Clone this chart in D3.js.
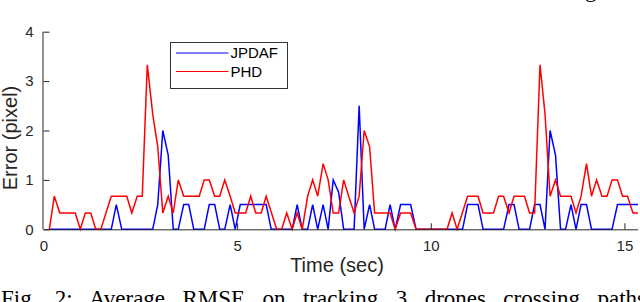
<!DOCTYPE html>
<html>
<head>
<meta charset="utf-8">
<script src="https://cdn.jsdelivr.net/npm/d3@7"></script>
<style>
    body { margin: 0; background: #fff; }
    svg { display: block; }
</style>
</head>
<body>
<div id="graphContainer"></div>
<script>
//series: time (sec) of each vertex and the error there
var jpdafTime = [0.15, 1.75, 1.88, 2.02, 2.82, 2.95, 3.08, 3.22, 3.35, 3.48, 3.62, 3.75, 3.88, 4.15, 4.28, 4.42, 4.55, 4.68, 4.82, 4.95,
        5.08, 5.75, 5.88, 6.42, 6.55, 6.68, 6.82, 6.95, 7.08, 7.22, 7.35, 7.48, 7.62, 7.75, 8.02, 8.15, 8.28, 8.42, 8.55, 8.82,
        8.95, 9.08, 9.22, 9.48, 9.62, 10.82, 10.95, 11.22, 11.35, 11.88, 12.02, 12.15, 12.28, 12.55, 12.68, 12.82, 12.95, 13.08, 13.22, 13.35,
        13.48, 13.62, 13.75, 13.88, 14.02, 14.15, 14.68, 14.82, 15.35],
    jpdafErr = [0, 0, 0.5, 0, 0, 0.5, 2.0, 1.5, 0, 0, 0.5, 0.5, 0, 0, 0.5, 0.5, 0, 0, 0.5, 0,
        0.5, 0.5, 0, 0, 0.5, 0, 0, 0.5, 0, 0.5, 0, 1.0, 0.75, 0, 0, 2.5, 0, 0.5, 0, 0,
        0.5, 0, 0.5, 0.5, 0, 0, 0.5, 0.5, 0, 0, 0.5, 0.5, 0, 0, 0.5, 0.5, 0, 2.0, 1.5, 0,
        0, 0.5, 0, 0.5, 0.5, 0, 0, 0.5, 0.5];

var phdTime = [0.15, 0.28, 0.42, 0.82, 0.95, 1.08, 1.22, 1.35, 1.48, 1.75, 2.15, 2.28, 2.42, 2.55, 2.68, 2.82, 2.95, 3.08, 3.22, 3.35,
        3.48, 3.62, 4.02, 4.15, 4.28, 4.42, 4.55, 4.68, 4.82, 4.95, 5.22, 5.35, 5.48, 5.62, 5.75, 6.02, 6.15, 6.28, 6.42, 6.55,
        6.68, 6.82, 6.95, 7.08, 7.22, 7.35, 7.48, 7.62, 7.75, 7.88, 8.02, 8.15, 8.28, 8.42, 8.55, 8.95, 9.08, 9.22, 9.48, 9.62,
        10.42, 10.55, 10.68, 10.95, 11.22, 11.35, 11.62, 11.75, 11.88, 12.02, 12.15, 12.42, 12.55, 12.68, 12.82, 12.95, 13.08, 13.22, 13.35, 13.62,
        13.75, 13.88, 14.02, 14.15, 14.28, 14.42, 14.55, 14.68, 14.82, 14.95, 15.08, 15.22, 15.35],
    phdErr = [0, 0.67, 0.33, 0.33, 0, 0.33, 0.33, 0, 0, 0.67, 0.67, 0.33, 0.67, 0.67, 3.33, 2.33, 1.67, 0.33, 0.67, 0.33,
        1.0, 0.67, 0.67, 1.0, 1.0, 0.67, 0.67, 1.0, 0.67, 0.33, 0.33, 0.67, 0.33, 0.33, 0.67, 0, 0, 0.33, 0, 0.33,
        0, 0.67, 1.0, 0.67, 1.33, 1.0, 0.33, 0.33, 1.0, 0.67, 0.33, 0.67, 2.0, 1.67, 0.33, 0.33, 0, 0.33, 0.33, 0,
        0, 0.33, 0, 0.67, 0.67, 0.33, 0.33, 0.67, 0.67, 0.33, 0.67, 0.67, 0.33, 0.33, 3.33, 2.33, 0.67, 1.0, 0.67, 0.67,
        0.33, 0.67, 1.33, 0.67, 1.0, 0.67, 0.67, 1.0, 1.0, 0.67, 0.67, 0.33, 0.33];

var xTicks = [0, 5, 10, 15],
    yTicks = [0, 1, 2, 3, 4],
    seriesNames = ["JPDAF", "PHD"],
    seriesColors = ["#0000ff", "#ff0000"];

var caption = "Fig. 2: Average RMSE on tracking 3 drones crossing paths";

//set up drawingspace
var width = 640,
    height = 302,
    axisColor = "#262626";

var svg = d3.select("#graphContainer").append("svg")
    .attr("width", width)
    .attr("height", height);

var x = d3.scaleLinear().domain([0, 15.35]).range([43.5, 638]),
    y = d3.scaleLinear().domain([0, 4]).range([229.3, 31.7]);

var chartLayer = svg.append("g").classed("chartLayer", true);

//lines, red drawn last so it sits on top where both are zero
var series = [
    {name: seriesNames[0], t: jpdafTime, v: jpdafErr, color: seriesColors[0]},
    {name: seriesNames[1], t: phdTime, v: phdErr, color: seriesColors[1]}
];

var line = d3.line()
    .x(function (d) { return x(d[0]); })
    .y(function (d) { return y(d[1]); });

chartLayer.selectAll(".series")
    .data(series)
    .enter().append("path")
    .attr("class", "series")
    .attr("fill", "none")
    .attr("stroke", function (d) { return d.color; })
    .attr("stroke-width", 1.5)
    .attr("stroke-linejoin", "miter")
    .attr("d", function (d) {
        return line(d.t.map(function (t, i) { return [t, d.v[i]]; }));
    });

//axes, ticks pointing inwards like matlab
var xAxis = d3.axisBottom(x).tickValues(xTicks).tickSize(-6).tickPadding(11).tickFormat(d3.format("d")),
    yAxis = d3.axisLeft(y).tickValues(yTicks).tickSize(-6).tickPadding(10).tickFormat(d3.format("d"));

var gx = svg.append("g").attr("transform", "translate(0," + y(0) + ")").call(xAxis),
    gy = svg.append("g").attr("transform", "translate(" + x(0) + ",0)").call(yAxis);

[gx, gy].forEach(function (g) {
    g.select(".domain").attr("stroke", axisColor);
    g.selectAll(".tick line").attr("stroke", axisColor);
    g.selectAll(".tick text")
        .attr("fill", axisColor)
        .style("font-family", "'Liberation Sans', Arial, sans-serif")
        .style("font-size", "15px");
});

//plain domain lines without end caps
gx.select(".domain").attr("d", "M" + x.range()[0] + ",0.5H" + x.range()[1]);
gy.select(".domain").attr("d", "M-0.5," + y.range()[0] + "V" + y.range()[1]);
gx.selectAll(".tick").filter(function (d) { return d === 0; }).select("line").remove();

//axis labels
svg.append("text")
    .attr("x", 337)
    .attr("y", 272)
    .attr("text-anchor", "middle")
    .attr("fill", axisColor)
    .style("font-family", "'Liberation Sans', Arial, sans-serif")
    .style("font-size", "20px")
    .text("Time (sec)");

svg.append("text")
    .attr("transform", "translate(17,138) rotate(-90)")
    .attr("text-anchor", "middle")
    .attr("fill", axisColor)
    .style("font-family", "'Liberation Sans', Arial, sans-serif")
    .style("font-size", "20px")
    .text("Error (pixel)");

//legend box
var legend = svg.append("g").attr("class", "legend");

legend.append("rect")
    .attr("x", 170.5)
    .attr("y", 42.5)
    .attr("width", 117)
    .attr("height", 46)
    .attr("fill", "#fff")
    .attr("stroke", "#333")
    .attr("stroke-width", 1);

var item = legend.selectAll(".item")
    .data(series)
    .enter().append("g")
    .attr("class", "item")
    .attr("transform", function (d, i) { return "translate(0," + (53 + i * 18.5) + ")"; });

item.append("line")
    .attr("x1", 176)
    .attr("x2", 228.5)
    .attr("stroke", function (d) { return d.color; })
    .attr("stroke-width", 1);

item.append("text")
    .attr("x", 230.5)
    .attr("dy", "0.36em")
    .attr("fill", "#000")
    .style("font-family", "'Liberation Sans', Arial, sans-serif")
    .style("font-size", "15px")
    .text(function (d) { return d.name; });

//page caption, mostly cut off by the bottom edge
var cap = svg.append("text")
    .attr("x", 1)
    .attr("y", 306)
    .attr("fill", "#000")
    .style("font-family", "'Liberation Serif', 'Times New Roman', serif")
    .style("font-size", "23px")
    .text(caption);

var natural = cap.node().getComputedTextLength();
cap.style("word-spacing", ((645 - natural) / 9) + "px");

//descender of the text line above the figure
svg.append("text")
    .attr("x", 585)
    .attr("y", -3)
    .attr("fill", "#000")
    .style("font-family", "'Liberation Serif', 'Times New Roman', serif")
    .style("font-size", "23px")
    .text("g");
</script>
</body>
</html>
